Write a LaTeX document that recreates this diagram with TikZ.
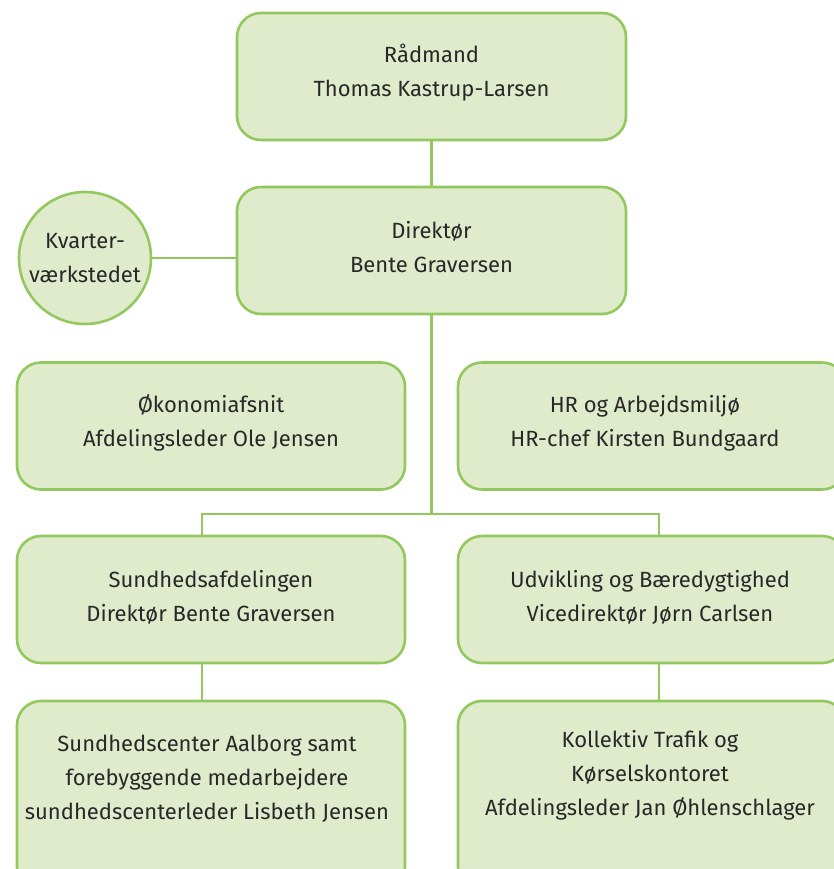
\documentclass[tikz,border=0pt]{standalone}
\usepackage{fontspec}
\setmainfont{Fira Sans}[BoldFont={Fira Sans}]
\definecolor{boxfill}{RGB}{224,235,204}
\definecolor{boxline}{RGB}{146,200,94}
\definecolor{txt}{RGB}{40,40,40}
\begin{document}
\begin{tikzpicture}[x=1pt,y=-1pt,
  orgbox/.style={draw=boxline,fill=boxfill,line width=2.6pt,rounded corners=24pt,minimum width=388pt,minimum height=127pt,inner sep=0pt},
  lbl/.style={text=txt,align=center,font=\fontsize{22}{34}\selectfont,inner sep=0pt},
  conn/.style={draw=boxline,line width=2.2pt}]
\useasboundingbox (0,0) rectangle (833,869);
% boxes
\node[orgbox,minimum width=389pt] (top) at (431.5,76.5) {};
\node[orgbox,minimum width=389pt] (dir) at (431.5,250.5) {};
\node[circle,draw=boxline,fill=boxfill,line width=2.6pt,minimum size=132pt,inner sep=0pt] (circ) at (85,258) {};
\node[orgbox] (oko) at (211,426) {};
\node[orgbox] (hr) at (652,426) {};
\node[orgbox] (sund) at (211,599.5) {};
\node[orgbox] (udv) at (652,599.5) {};
\node[orgbox,minimum height=190pt] (scen) at (211,796) {};
\node[orgbox,minimum height=190pt] (koll) at (652,796) {};
% labels
\node[lbl] (ttop) at (431.5,73) {Rådmand\\Thomas Kastrup-Larsen};
\node[lbl] (tdir) at (431.5,247) {Direktør\\Bente Graversen};
\node[lbl] (tcirc) at (85,258) {Kvarter-\\værkstedet};
\node[lbl] (toko) at (211,423) {Økonomiafsnit\\Afdelingsleder Ole Jensen};
\node[lbl] (thr) at (645,423) {HR og Arbejdsmiljø\\HR-chef Kirsten Bundgaard};
\node[lbl] (tsund) at (211,597) {Sundhedsafdelingen\\Direktør Bente Graversen};
\node[lbl] (tudv) at (650,597) {Udvikling og Bæredygtighed\\Vicedirektør Jørn Carlsen};
\node[lbl] (tscen) at (207,779) {Sundhedscenter Aalborg samt\\forebyggende medarbejdere\\sundhedscenterleder Lisbeth Jensen};
\node[lbl] (tkoll) at (650,775) {Kollektiv Trafik og\\Kørselskontoret\\Afdelingsleder Jan Øhlenschlager};
% connectors
\coordinate (j) at (431.5,514);
\coordinate (jl) at (202,514);
\coordinate (jr) at (659,514);
\draw[conn] (top.south) -- (dir.north);
\draw[conn] (circ.east) -- (circ.east -| dir.west);
\draw[conn] (dir.south) -- (j);
\draw[conn] (jl |- sund.north) -- (jl) -- (jr) -- (jr |- udv.north);
\draw[conn] (jl |- sund.south) -- (jl |- scen.north);
\draw[conn] (jr |- udv.south) -- (jr |- koll.north);
\end{tikzpicture}
\end{document}
